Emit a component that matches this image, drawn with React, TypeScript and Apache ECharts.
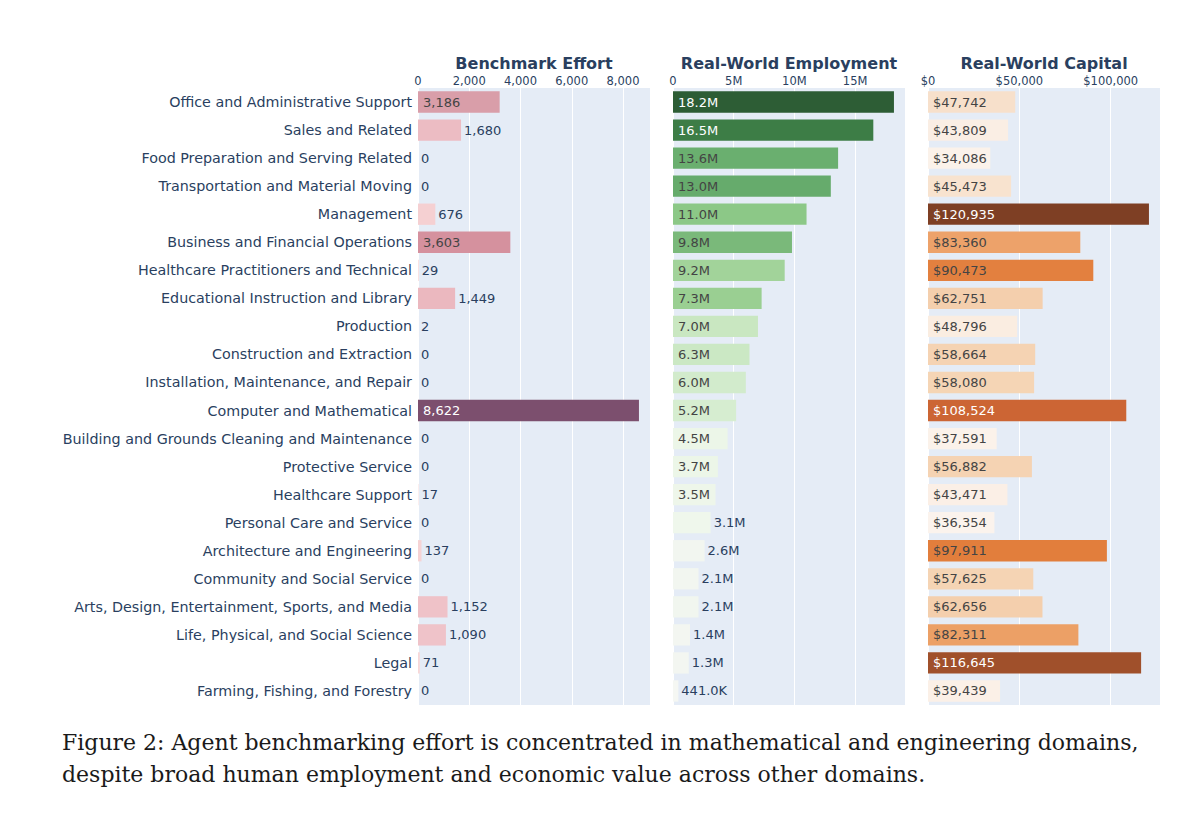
import React, { useEffect, useRef } from "react";
import * as echarts from "echarts";

const categories = [
  "Office and Administrative Support",
  "Sales and Related",
  "Food Preparation and Serving Related",
  "Transportation and Material Moving",
  "Management",
  "Business and Financial Operations",
  "Healthcare Practitioners and Technical",
  "Educational Instruction and Library",
  "Production",
  "Construction and Extraction",
  "Installation, Maintenance, and Repair",
  "Computer and Mathematical",
  "Building and Grounds Cleaning and Maintenance",
  "Protective Service",
  "Healthcare Support",
  "Personal Care and Service",
  "Architecture and Engineering",
  "Community and Social Service",
  "Arts, Design, Entertainment, Sports, and Media",
  "Life, Physical, and Social Science",
  "Legal",
  "Farming, Fishing, and Forestry",
];

const benchmarkEffort = [3186, 1680, 0, 0, 676, 3603, 29, 1449, 2, 0, 0, 8622, 0, 0, 17, 0, 137, 0, 1152, 1090, 71, 0];
const employmentMillions = [18.2, 16.5, 13.6, 13.0, 11.0, 9.8, 9.2, 7.3, 7.0, 6.3, 6.0, 5.2, 4.5, 3.7, 3.5, 3.1, 2.6, 2.1, 2.1, 1.4, 1.3, 0.441];
const capitalUSD = [47742, 43809, 34086, 45473, 120935, 83360, 90473, 62751, 48796, 58664, 58080, 108524, 37591, 56882, 43471, 36354, 97911, 57625, 62656, 82311, 116645, 39439];

const panelTitles = ["Benchmark Effort", "Real-World Employment", "Real-World Capital"];
const tickIntervals = [2000, 5, 50000];

const captionLines = [
  "Figure 2: Agent benchmarking effort is concentrated in mathematical and engineering domains,",
  "despite broad human employment and economic value across other domains.",
];

// bar colours (style)
const benchmarkColors = [
  "#d99ea9", "#ecbcc3", "#f8dada", "#f8dada", "#f5d0d2", "#d5919e", "#f8d9d9", "#ebb8bf",
  "#f8dada", "#f8dada", "#f8dada", "#7c4f6e", "#f8dada", "#f8dada", "#f8dada", "#f8dada",
  "#f6d3d4", "#f8dada", "#efc2c8", "#efc3c9", "#f8d8d8", "#f8dada",
];
const employmentColors = [
  "#2d5d35", "#3d7d46", "#6aaf6f", "#66ab6c", "#8cc887", "#7ab97a", "#a2d39a", "#9acf92",
  "#c9e7c1", "#cbe8c4", "#d2ebcc", "#d6edd0", "#ecf6e8", "#ecf6e8", "#eef6ea", "#eff7ec",
  "#f2f6f0", "#f2f6f0", "#f1f6ef", "#f3f6f1", "#f3f6f1", "#f5f7f3",
];
const capitalColors = [
  "#f7e0cb", "#faeee4", "#fbf2ea", "#f8e3cf", "#7e3f24", "#eda26a", "#e3803f", "#f4cfad",
  "#faede1", "#f5d3b3", "#f5d5b5", "#cc6534", "#fbf2ea", "#f5d3b3", "#fbefe6", "#fbf3ed",
  "#e27e3c", "#f5d4b4", "#f4cfad", "#eca066", "#a0502b", "#fbf0e7",
];

const FONT = "DejaVu Sans";
const TEXT_COLOR = "#2a3f5f";
const GRID_LEFTS = [418, 673, 928];
const GRID_W = 232;
const GRID_TOP = 88;
const GRID_H = 617;
const VALUE_FONT = 13;

let measureCtx: CanvasRenderingContext2D | null = null;
function textWidth(t: string, size: number) {
  if (!measureCtx) measureCtx = document.createElement("canvas").getContext("2d");
  if (!measureCtx) return t.length * size * 0.6;
  measureCtx.font = `${size}px "${FONT}"`;
  return measureCtx.measureText(t).width;
}

function isLight(hex: string) {
  const r = parseInt(hex.slice(1, 3), 16);
  const g = parseInt(hex.slice(3, 5), 16);
  const b = parseInt(hex.slice(5, 7), 16);
  return (r * 299 + g * 587 + b * 114) / 1000 >= 128;
}

const fmtBench = (v: number) => v.toLocaleString("en-US");
const fmtEmp = (v: number) => (v >= 1 ? v.toFixed(1) + "M" : (v * 1000).toFixed(1) + "K");
const fmtCap = (v: number) => "$" + v.toLocaleString("en-US");

function buildSeries(values: number[], colors: string[], axisMax: number, fmt: (v: number) => string, idx: number) {
  return {
    type: "bar",
    xAxisIndex: idx,
    yAxisIndex: idx,
    barCategoryGap: "24%",
    data: values.map((v, i) => {
      const txt = fmt(v);
      const barPx = (v / axisMax) * GRID_W;
      const inside = textWidth(txt, VALUE_FONT) + 6 <= barPx;
      return {
        value: v,
        itemStyle: { color: colors[i] },
        label: inside
          ? { position: "insideLeft", distance: 5, color: isLight(colors[i]) ? "#444" : "#fff" }
          : { position: "right", distance: 3, color: TEXT_COLOR },
      };
    }),
    label: {
      show: true,
      fontSize: VALUE_FONT,
      fontFamily: FONT,
      formatter: (p: any) => fmt(p.value),
    },
  };
}

export default function App() {
  const ref = useRef<HTMLDivElement>(null);
  useEffect(() => {
    if (!ref.current) return;
    const chart = echarts.init(ref.current, undefined, { renderer: "svg" });
    const maxes = [
      Math.max(...benchmarkEffort) * 1.05,
      Math.max(...employmentMillions) * 1.05,
      Math.max(...capitalUSD) * 1.05,
    ];
    const tickFmts = [
      (v: number) => v.toLocaleString("en-US"),
      (v: number) => (v === 0 ? "0" : v + "M"),
      (v: number) => "$" + v.toLocaleString("en-US"),
    ];
    const option: any = {
      animation: false,
      backgroundColor: "#ffffff",
      textStyle: { fontFamily: FONT },
      title: panelTitles.map((t, i) => ({
        text: t,
        left: GRID_LEFTS[i] + GRID_W / 2,
        textAlign: "center",
        top: 55,
        padding: 0,
        textStyle: { fontSize: 16, fontWeight: "bold", color: TEXT_COLOR, fontFamily: FONT },
      })),
      grid: GRID_LEFTS.map((l) => ({
        left: l,
        top: GRID_TOP,
        width: GRID_W,
        height: GRID_H,
        show: true,
        backgroundColor: "#E5ECF6",
        borderWidth: 0,
        containLabel: false,
      })),
      xAxis: [0, 1, 2].map((i) => ({
        type: "value",
        gridIndex: i,
        position: "top",
        min: 0,
        max: maxes[i],
        interval: tickIntervals[i],
        axisLine: { show: false },
        axisTick: { show: false },
        axisLabel: {
          fontSize: 11.5,
          color: TEXT_COLOR,
          margin: 1,
          showMaxLabel: false,
          formatter: tickFmts[i],
        },
        splitLine: { show: true, lineStyle: { color: "#ffffff", width: 1 } },
      })),
      yAxis: [0, 1, 2].map((i) => ({
        type: "category",
        gridIndex: i,
        data: categories,
        inverse: true,
        axisLine: { show: false },
        axisTick: { show: false },
        splitLine: { show: false },
        axisLabel: {
          show: i === 0,
          fontSize: 14.3,
          color: TEXT_COLOR,
          margin: 6,
        },
      })),
      series: [
        buildSeries(benchmarkEffort, benchmarkColors, maxes[0], fmtBench, 0),
        buildSeries(employmentMillions, employmentColors, maxes[1], fmtEmp, 1),
        buildSeries(capitalUSD, capitalColors, maxes[2], fmtCap, 2),
      ],
      graphic: captionLines.map((line, i) => ({
        type: "text",
        left: 62,
        top: 731 + i * 32,
        style: {
          text: line,
          font: '22px "DejaVu Serif"',
          fill: "#1a1a1a",
        },
      })),
    };
    chart.setOption(option);
    return () => chart.dispose();
  }, []);
  return (
    <div
      ref={ref}
      style={{ position: "absolute", left: 0, top: 0, width: 1200, height: 818, background: "#fff" }}
    />
  );
}
